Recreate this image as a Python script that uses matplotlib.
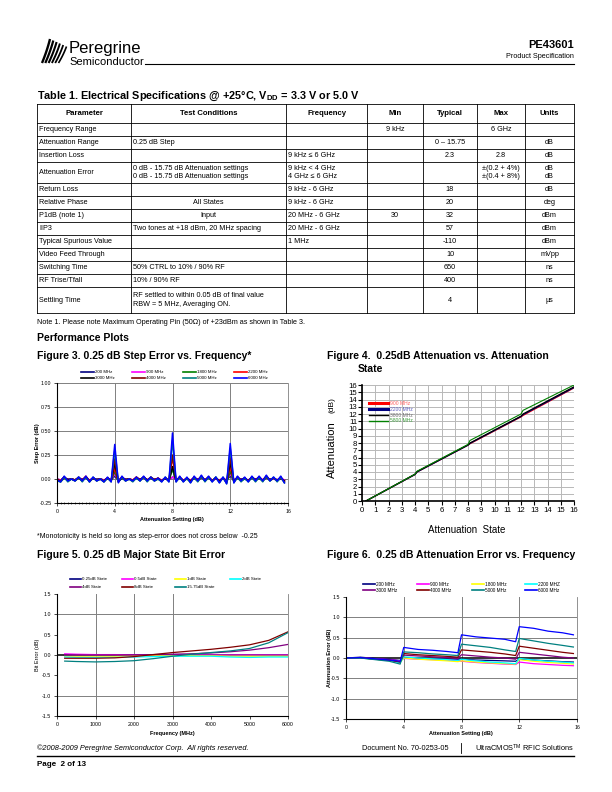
import matplotlib
matplotlib.use("Agg")
import matplotlib.pyplot as plt
import numpy as np

plt.rcParams['font.family'] = ['Liberation Sans', 'DejaVu Sans']

# ---------------- data ----------------
# Table 1
params = ["Frequency Range", "Attenuation Range", "Insertion Loss", "Attenuation Error", "Return Loss",
          "Relative Phase", "P1dB (note 1)", "IIP3", "Typical Spurious Value", "Video Feed Through",
          "Switching Time", "RF Trise/Tfall", "Settling Time"]
conds = ["", "0.25 dB Step", "", "0 dB - 15.75 dB Attenuation settings\n0 dB - 15.75 dB Attenuation settings", "",
         "All States", "Input", "Two tones at +18 dBm, 20 MHz spacing", "", "",
         "50% CTRL to 10% / 90% RF", "10% / 90% RF",
         "RF settled to within 0.05 dB of final value\nRBW = 5 MHz, Averaging ON."]
freqs = ["", "", "9 kHz ≤ 6 GHz", "9 kHz < 4 GHz\n4 GHz ≤ 6 GHz", "9 kHz - 6 GHz", "9 kHz - 6 GHz",
         "20 MHz - 6 GHz", "20 MHz - 6 GHz", "1 MHz", "", "", "", ""]
mins = ["9 kHz", "", "", "", "", "", "30", "", "", "", "", "", ""]
typs = ["", "0 – 15.75", "2.3", "", "18", "20", "32", "57", "-110", "10", "650", "400", "4"]
maxs = ["6 GHz", "", "2.8", "±(0.2 + 4%)\n±(0.4 + 8%)", "", "", "", "", "", "", "", "", ""]
units = ["", "dB", "dB", "dB\ndB", "dB", "deg", "dBm", "dBm", "dBm", "mVpp", "ns", "ns", "µs"]
headers = ["Parameter", "Test Conditions", "Frequency", "Min", "Typical", "Max", "Units"]

# Figure 3 - step error vs attenuation setting
f3_x = [i * 0.25 for i in range(64)]
f3_names = ["200 MHz", "900 MHz", "1800 MHz", "2200 MHz", "3000 MHz", "4000 MHz", "5000 MHz", "6000 MHz"]
f3_colors = ["#000080", "#ff00ff", "#008000", "#ff0000", "#000000", "#800000", "#008080", "#0000ff"]
f3_200 = [0.00,-0.01,0.01,0.00,0.00,-0.01,0.01,0.00,0.01,-0.01,0.00,0.00,0.00,-0.01,0.00,-0.01,
          0.03,-0.01,0.01,0.00,0.00,-0.01,0.01,0.00,0.01,-0.01,0.01,0.00,0.00,-0.01,0.00,-0.01,
          0.02,-0.01,0.01,-0.01,0.00,-0.01,0.01,0.00,0.01,-0.01,0.01,-0.01,0.00,-0.01,0.00,-0.01,
          0.03,-0.01,0.01,0.00,0.00,-0.01,0.01,0.00,0.01,-0.01,0.01,0.00,0.00,-0.01,0.00,-0.01]
f3_900 = [0.00,-0.01,0.01,-0.01,0.00,-0.01,0.01,-0.01,0.01,-0.01,0.01,-0.01,0.00,-0.01,0.01,-0.01,
          0.05,-0.01,0.01,-0.01,0.00,-0.01,0.01,-0.01,0.01,-0.01,0.01,-0.01,0.00,-0.01,0.01,-0.01,
          0.02,-0.01,0.01,-0.01,0.00,-0.01,0.01,-0.01,0.01,-0.01,0.01,-0.01,0.00,-0.01,0.01,-0.01,
          0.05,-0.01,0.01,-0.01,0.00,-0.01,0.01,-0.01,0.01,-0.01,0.01,-0.01,0.00,-0.01,0.01,-0.01]
f3_1800 = [-0.01,-0.03,0.01,-0.02,0.00,-0.02,0.01,-0.02,0.02,-0.03,0.01,-0.02,0.00,-0.03,0.01,-0.02,
           0.08,-0.03,0.01,-0.02,0.00,-0.02,0.01,-0.02,0.02,-0.02,0.01,-0.02,0.00,-0.02,0.01,-0.02,
           0.10,-0.02,0.01,-0.02,0.00,-0.03,0.01,-0.02,0.02,-0.02,0.01,-0.02,0.02,-0.03,0.01,-0.04,
           0.08,-0.03,0.01,-0.02,0.00,-0.02,0.01,-0.02,0.01,-0.02,0.02,-0.02,0.01,-0.02,0.01,-0.03]
f3_2200 = [0.00,-0.02,0.02,-0.01,0.00,-0.01,0.01,-0.01,0.03,-0.02,0.01,-0.01,0.00,-0.02,0.01,-0.01,
           0.11,-0.02,0.02,-0.01,0.00,-0.01,0.02,-0.01,0.02,-0.01,0.02,-0.01,0.01,-0.02,0.01,-0.01,
           0.22,-0.02,0.02,-0.02,0.01,-0.02,0.02,-0.01,0.03,-0.01,0.02,-0.02,0.01,-0.02,0.01,-0.02,
           0.12,-0.02,0.02,-0.01,0.01,-0.02,0.02,-0.01,0.02,-0.01,0.03,-0.01,0.01,-0.01,0.01,-0.02]
f3_3000 = [-0.01,-0.02,0.02,-0.01,0.00,-0.01,0.01,-0.02,0.02,-0.02,0.01,-0.01,0.00,-0.02,0.01,-0.02,
           0.16,-0.02,0.01,-0.01,0.00,-0.02,0.01,-0.01,0.02,-0.01,0.01,-0.01,0.00,-0.02,0.01,-0.02,
           0.13,-0.02,0.02,-0.02,0.01,-0.02,0.01,-0.02,0.02,-0.01,0.02,-0.02,0.01,-0.02,0.01,-0.03,
           0.17,-0.02,0.01,-0.01,0.01,-0.02,0.02,-0.01,0.01,-0.02,0.02,-0.01,0.01,-0.01,0.01,-0.02]
f3_4000 = [-0.01,-0.02,0.02,-0.02,0.00,-0.01,0.02,-0.02,0.02,-0.02,0.01,-0.01,0.00,-0.02,0.01,-0.02,
           0.21,-0.03,0.02,-0.01,0.00,-0.02,0.02,-0.01,0.02,-0.02,0.02,-0.01,0.01,-0.02,0.01,-0.02,
           0.25,-0.02,0.02,-0.02,0.01,-0.03,0.02,-0.02,0.03,-0.02,0.02,-0.02,0.01,-0.03,0.01,-0.03,
           0.22,-0.03,0.02,-0.02,0.01,-0.02,0.02,-0.01,0.02,-0.02,0.03,-0.01,0.01,-0.02,0.02,-0.03]
f3_5000 = [-0.02,-0.03,0.02,-0.03,0.00,-0.02,0.02,-0.03,0.02,-0.03,0.02,-0.02,0.00,-0.03,0.01,-0.03,
           0.30,-0.03,0.02,-0.02,0.00,-0.03,0.01,-0.02,0.02,-0.03,0.02,-0.02,0.00,-0.03,0.02,-0.03,
           0.40,-0.03,0.02,-0.03,0.01,-0.04,0.02,-0.03,0.03,-0.03,0.02,-0.03,0.02,-0.04,0.02,-0.05,
           0.32,-0.04,0.02,-0.03,0.01,-0.03,0.02,-0.03,0.02,-0.03,0.03,-0.02,0.02,-0.03,0.02,-0.04]
f3_6000 = [-0.01,-0.03,0.03,-0.02,0.00,-0.02,0.02,-0.02,0.03,-0.03,0.02,-0.02,0.00,-0.03,0.02,-0.03,
           0.36,-0.04,0.03,-0.02,0.00,-0.02,0.02,-0.02,0.03,-0.02,0.02,-0.02,0.01,-0.03,0.02,-0.03,
           0.48,-0.03,0.03,-0.03,0.02,-0.04,0.03,-0.02,0.04,-0.02,0.03,-0.03,0.02,-0.04,0.02,-0.05,
           0.37,-0.04,0.03,-0.02,0.02,-0.03,0.03,-0.02,0.03,-0.02,0.04,-0.02,0.02,-0.02,0.03,-0.04]
f3_series = [f3_200, f3_900, f3_1800, f3_2200, f3_3000, f3_4000, f3_5000, f3_6000]

# Figure 4 - attenuation vs attenuation state
f4_x = [0.3, 4.0, 4.15, 8.0, 8.15, 12.0, 12.15, 16.0]
f4_names = ["900 MHz", "2200 MHz", "3800 MHz", "5800 MHz"]
f4_colors = ["#ff0000", "#000080", "#000000", "#008000"]
f4_text_colors = ["#ff6060", "#6060c0", "#707070", "#40a040"]
f4_900 = [0, 3.65, 4.0, 7.7, 7.9, 11.6, 11.8, 15.6]
f4_2200 = [0, 3.65, 4.0, 7.7, 7.95, 11.65, 11.9, 15.65]
f4_3800 = [0, 3.7, 4.05, 7.75, 8.0, 11.7, 12.0, 15.75]
f4_5800 = [0, 3.7, 4.1, 7.8, 8.35, 12.0, 12.5, 16.0]
f4_series = [f4_900, f4_2200, f4_3800, f4_5800]

# Figure 5 - major state bit error vs frequency
f5_x = [200, 500, 1000, 1500, 2000, 2500, 3000, 3500, 4000, 4500, 5000, 5500, 6000]
f5_names = ["0.25dB State", "0.5dB State", "1dB State", "2dB State", "4dB State", "8dB State", "15.75dB State"]
f5_colors = ["#000080", "#ff00ff", "#ffff00", "#00ffff", "#800080", "#800000", "#008080"]
f5_025 = [0.0, 0.0, 0.0, 0.0, 0.0, -0.01, -0.01, -0.01, -0.01, -0.01, -0.01, -0.01, -0.01]
f5_05 = [0.03, 0.02, 0.01, 0.01, 0.0, 0.0, 0.0, 0.0, 0.0, 0.0, 0.0, 0.0, 0.0]
f5_1 = [-0.03, -0.03, -0.03, -0.03, -0.02, -0.02, -0.02, -0.02, -0.02, -0.03, -0.03, -0.03, -0.03]
f5_2 = [-0.05, -0.06, -0.06, -0.06, -0.05, -0.04, -0.03, -0.03, -0.03, -0.05, -0.06, -0.05, -0.05]
f5_4 = [0.0, 0.0, 0.0, 0.0, 0.0, 0.01, 0.02, 0.03, 0.05, 0.08, 0.12, 0.18, 0.26]
f5_8 = [-0.08, -0.08, -0.08, -0.07, -0.04, 0.01, 0.06, 0.1, 0.14, 0.19, 0.25, 0.36, 0.57]
f5_1575 = [-0.15, -0.16, -0.17, -0.16, -0.14, -0.09, -0.03, 0.02, 0.06, 0.1, 0.16, 0.3, 0.55]
f5_series = [f5_025, f5_05, f5_1, f5_2, f5_4, f5_8, f5_1575]

# Figure 6 - attenuation error vs attenuation setting
f6_x = [0, 1, 2, 3, 3.75, 4, 5, 6, 7, 7.75, 8, 9, 10, 11, 11.75, 12, 13, 14, 15, 15.75]
f6_names = ["200 MHz", "900 MHz", "1800 MHz", "2200 MHZ", "3000 MHz", "4000 MHz", "5000 MHz", "6000 MHz"]
f6_colors = ["#000080", "#ff00ff", "#ffff00", "#00ffff", "#800080", "#800000", "#008080", "#0000ff"]
f6_200 = [0, 0.02, -0.01, -0.03, -0.06, 0.0, -0.01, -0.02, -0.03, -0.04, -0.03, -0.05, -0.06, -0.07, -0.08, -0.03, -0.05, -0.07, -0.09, -0.1]
f6_900 = [0, 0.01, -0.02, -0.04, -0.07, -0.01, -0.03, -0.04, -0.05, -0.06, -0.08, -0.11, -0.13, -0.15, -0.16, -0.1, -0.14, -0.16, -0.18, -0.19]
f6_1800 = [0, 0.0, -0.03, -0.06, -0.1, 0.0, -0.03, -0.05, -0.07, -0.09, -0.07, -0.1, -0.12, -0.14, -0.15, -0.04, -0.08, -0.11, -0.13, -0.15]
f6_2200 = [0, 0.0, -0.03, -0.06, -0.12, 0.03, 0.0, -0.02, -0.04, -0.06, -0.03, -0.07, -0.1, -0.12, -0.14, -0.01, -0.05, -0.08, -0.1, -0.12]
f6_3000 = [0, 0.01, -0.03, -0.05, -0.09, 0.07, 0.05, 0.03, 0.01, -0.01, 0.08, 0.05, 0.02, 0.0, -0.03, 0.14, 0.1, 0.06, 0.02, 0.0]
f6_4000 = [0, 0.01, -0.03, -0.05, -0.1, 0.11, 0.08, 0.06, 0.04, 0.02, 0.2, 0.17, 0.14, 0.1, 0.06, 0.29, 0.24, 0.19, 0.14, 0.11]
f6_5000 = [0, 0.0, -0.04, -0.08, -0.15, 0.15, 0.13, 0.1, 0.08, 0.06, 0.34, 0.3, 0.26, 0.2, 0.16, 0.48, 0.42, 0.36, 0.31, 0.27]
f6_6000 = [0, 0.01, -0.02, -0.05, -0.08, 0.26, 0.21, 0.19, 0.16, 0.13, 0.57, 0.52, 0.49, 0.46, 0.40, 0.77, 0.73, 0.66, 0.62, 0.57]
f6_series = [f6_200, f6_900, f6_1800, f6_2200, f6_3000, f6_4000, f6_5000, f6_6000]

# ---------------- page ----------------
W, H = 612, 792
fig = plt.figure(figsize=(6.12, 7.92), dpi=100)
page = fig.add_axes([0, 0, 1, 1])
page.set_xlim(0, W)
page.set_ylim(H, 0)
page.axis('off')


def box(l, t, r, b):
    return [l / W, 1 - b / H, (r - l) / W, (b - t) / H]


def T(x, y, s, size=5.2, **kw):
    kw.setdefault('va', 'center')
    page.text(x, y, s, fontsize=size, **kw)


# header / logo
for k in range(6):
    xs = np.linspace(0, 1, 12)
    px = 42 + 3.3 * k + 10 * xs - 2 * xs ** 2
    py = 63 - 24 * xs + 1.5 * k * xs
    page.plot(px, py, color='black', lw=1.7 - 0.1 * k, solid_capstyle='butt')
T(69, 48, "Peregrine", 12, family=['Liberation Sans Narrow', 'Liberation Sans'])
T(69, 62, "Semiconductor", 8, family=['Liberation Sans Narrow', 'Liberation Sans'])
page.plot([145, 574], [64, 64], color='black', lw=0.8)
T(574, 45, "PE43601", 8, ha='right', weight='bold')
T(574, 57, "Product Specification", 5.2, ha='right')

# table
T(37, 96, r"Table 1. Electrical Specifications @ +25°C, V$_{\mathregular{DD}}$ = 3.3 V or 5.0 V", 7.8, weight='bold')
cols = [37, 131, 286, 367, 423, 477, 525, 574]
rows = [104, 123, 136, 149, 162, 183, 196, 209, 222, 235, 248, 261, 274, 287, 313]
for y in rows:
    page.plot([cols[0], cols[-1]], [y, y], color='black', lw=0.6)
for x in cols:
    page.plot([x, x], [rows[0], rows[-1]], color='black', lw=0.6)
for j, h in enumerate(headers):
    T((cols[j] + cols[j + 1]) / 2, (rows[0] + rows[1]) / 2, h, 5.6, ha='center', weight='bold')
centered = {"All States", "Input"}
for i in range(len(params)):
    yc = (rows[i + 1] + rows[i + 2]) / 2
    T(cols[0] + 2, yc, params[i], 5.2)
    if conds[i] in centered:
        T((cols[1] + cols[2]) / 2, yc, conds[i], 5.2, ha='center')
    else:
        T(cols[1] + 2, yc, conds[i], 5.2, linespacing=1.35)
    T(cols[2] + 2, yc, freqs[i], 5.2, linespacing=1.35)
    for j, col in [(3, mins), (4, typs), (5, maxs), (6, units)]:
        T((cols[j] + cols[j + 1]) / 2, yc, col[i], 5.2, ha='center', linespacing=1.35)
T(37, 322, "Note 1. Please note Maximum Operating Pin (50Ω) of +23dBm as shown in Table 3.", 5.2)

T(37, 338, "Performance Plots", 7.5, weight='bold')
T(37, 356, "Figure 3. 0.25 dB Step Error vs. Frequency*", 7.5, weight='bold')
T(327, 356, "Figure 4.  0.25dB Attenuation vs. Attenuation", 7.5, weight='bold')
T(358, 369, "State", 7.5, weight='bold')
T(37, 536, "*Monotonicity is held so long as step-error does not cross below  -0.25", 5)
T(37, 555, "Figure 5. 0.25 dB Major State Bit Error", 7.5, weight='bold')
T(327, 555, "Figure 6.  0.25 dB Attenuation Error vs. Frequency", 7.5, weight='bold')


def legend(names, colors, xs, ys, lw_len=12, size=3.6):
    for n, (name, c) in enumerate(zip(names, colors)):
        x = xs[n % 4]
        y = ys[n // 4]
        page.plot([x, x + lw_len], [y, y], color=c, lw=1.2)
        T(x + lw_len + 1, y, name, size)


def style_small(ax):
    ax.tick_params(labelsize=3.8, length=2, width=0.5, pad=2)
    for s in ['left', 'bottom']:
        ax.spines[s].set_color('black')
        ax.spines[s].set_linewidth(0.8)
    ax.spines['top'].set_visible(False)
    ax.spines['right'].set_color('#808080')
    ax.spines['right'].set_linewidth(0.6)


# Figure 3
ax3 = fig.add_axes(box(57, 383, 288, 503))
ax3.set_xlim(0, 16)
ax3.set_ylim(-0.25, 1.0)
yt = [-0.25, 0.0, 0.25, 0.5, 0.75, 1.0]
ax3.set_yticks(yt)
ax3.set_yticklabels(["%.2f" % v for v in yt])
ax3.set_xticks([0, 4, 8, 12, 16])
ax3.set_xticks(f3_x, minor=True)
ax3.tick_params(axis='x', which='minor', length=1.2, width=0.4, direction='inout')
for v in yt[1:]:
    ax3.axhline(v, color='#808080', lw=0.7, zorder=0)
for v in [4, 8, 12]:
    ax3.axvline(v, color='#808080', lw=0.7, zorder=0)
for ys, c in zip(f3_series, f3_colors):
    ax3.plot(f3_x, ys, color=c, lw=1.1)
style_small(ax3)
legend(f3_names, f3_colors, [81, 132, 183, 234], [372, 378], lw_len=13, size=3.2)
T(37, 443, "Step Error (dB)", 4, rotation=90, ha='center', weight='bold')
T(172, 519, "Attenuation Setting (dB)", 4, ha='center', weight='bold')

# Figure 4
A4 = (362, 385, 574, 501)
ax4 = fig.add_axes(box(*A4))
ax4.set_xlim(0, 16)
ax4.set_ylim(0, 16)
ax4.set_xticks(range(17))
ax4.set_yticks(range(17))
ax4.grid(True, color='#b8b8b8', lw=0.7)
ax4.set_axisbelow(True)
ax4.tick_params(labelsize=5.6, length=3, width=0.8, pad=1)
ax4.tick_params(axis='y', pad=0.5)
for s in ['top', 'right']:
    ax4.spines[s].set_visible(False)
for s in ['left', 'bottom']:
    ax4.spines[s].set_linewidth(1.2)
for ys, c, lw in zip(f4_series, f4_colors, [0.9, 0.9, 0.9, 0.8]):
    ax4.plot(f4_x, ys, color=c, lw=lw)


def d4(px, py):
    return ((px - A4[0]) / (A4[2] - A4[0]) * 16, (A4[3] - py) / (A4[3] - A4[1]) * 16)


for n, (name, c, tc) in enumerate(zip(f4_names, f4_colors, f4_text_colors)):
    y = 403 + 6 * n
    x0, yy = d4(369, y)
    x1, _ = d4(388, y)
    xt, _ = d4(390, y)
    ax4.plot([x0, x1], [yy, yy], color=c, lw=2.2 if n < 2 else 1.0, zorder=5)
    ax4.text(xt, yy, name, fontsize=3.6, color=tc, va='center', zorder=5)
T(332, 450, "Attenuation", 8, rotation=90, ha='center')
T(332, 405, "(dB)", 6, rotation=90, ha='center')
T(467, 530, "Attenuation  State", 7, ha='center')

# Figure 5
ax5 = fig.add_axes(box(57, 594, 288, 716))
ax5.set_xlim(0, 6000)
ax5.set_ylim(-1.5, 1.5)
ax5.set_xticks(range(0, 6001, 1000))
y5 = [-1.5, -1.0, -0.5, 0.0, 0.5, 1.0, 1.5]
ax5.set_yticks(y5)
ax5.set_yticklabels(["%.1f" % v for v in y5])
for v in [1000, 2000, 3000]:
    ax5.axvline(v, color='#808080', lw=0.7, zorder=0)
for v in [1.0, -1.0]:
    ax5.axhline(v, color='#808080', lw=0.7, zorder=0)
for ys, c in zip(f5_series, f5_colors):
    ax5.plot(f5_x, ys, color=c, lw=0.9)
ax5.axhline(0, color='black', lw=1.1, zorder=1)
style_small(ax5)
legend(f5_names, f5_colors, [70, 122, 175, 230], [579, 587], lw_len=11, size=3.2)
T(38, 655, "Bit Error (dB)", 4, rotation=90, ha='center')
T(172, 733, "Frequency (MHz)", 4, ha='center', weight='bold')

# Figure 6
ax6 = fig.add_axes(box(346, 597, 577, 719))
ax6.set_xlim(0, 16)
ax6.set_ylim(-1.5, 1.5)
ax6.set_xticks([0, 4, 8, 12, 16])
ax6.set_yticks(y5)
ax6.set_yticklabels(["%.1f" % v for v in y5])
for v in [4, 8, 12]:
    ax6.axvline(v, color='#808080', lw=0.7, zorder=0)
for v in [1.0, 0.5, -0.5, -1.0]:
    ax6.axhline(v, color='#808080', lw=0.7, zorder=0)
for ys, c in zip(f6_series, f6_colors):
    ax6.plot(f6_x, ys, color=c, lw=0.9)
ax6.axhline(0, color='black', lw=1.1, zorder=1)
style_small(ax6)
legend(f6_names, f6_colors, [363, 417, 472, 525], [584, 590], lw_len=12, size=3.4)
T(329, 658, "Attenuation Error (dB)", 4, rotation=90, ha='center', weight='bold')
T(461, 733, "Attenuation Setting (dB)", 4, ha='center', weight='bold')

# footer
T(37, 748, "©2008-2009 Peregrine Semiconductor Corp.  All rights reserved.", 5.3, style='italic')
T(449, 748, "Document No. 70-0253-05", 5.3, ha='right')
page.plot([461, 461], [743, 753], color='black', lw=0.6)
T(574, 748, r"UltraCMOS$^{\mathregular{TM}}$ RFIC Solutions", 5.3, ha='right')
page.plot([37, 574], [756, 756], color='black', lw=1.0)
T(37, 765, "Page  2 of 13", 5.8, weight='bold')

fig.savefig("out.png", dpi=100)
